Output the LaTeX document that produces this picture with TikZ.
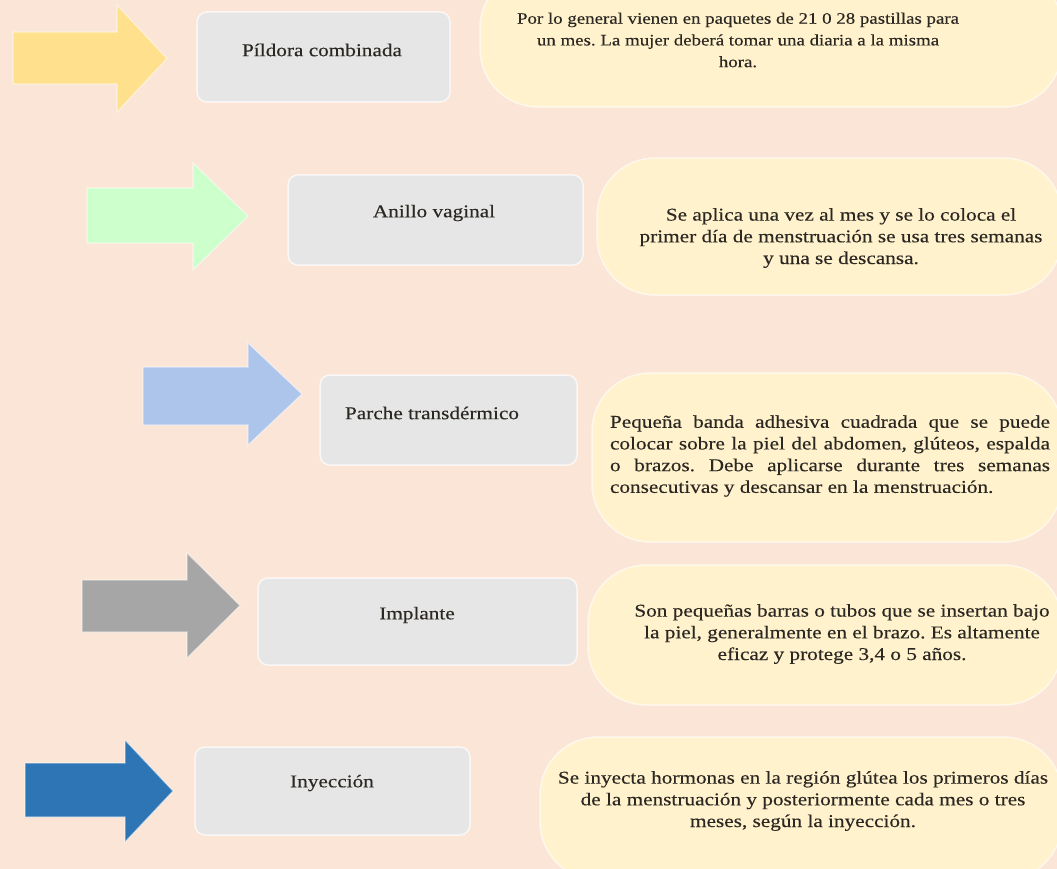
\documentclass[tikz,border=0pt]{standalone}
\usepackage{fontspec}
\setmainfont{Liberation Serif}[FakeStretch=1.18,FakeBold=0.25]
\definecolor{bg}{HTML}{FBE5D6}
\definecolor{notefill}{HTML}{FFF2CC}
\definecolor{boxfill}{HTML}{E6E6E6}
\definecolor{ink}{HTML}{2B2722}
\definecolor{arrY}{HTML}{FFE08C}
\definecolor{arrG}{HTML}{CCFFCC}
\definecolor{arrB}{HTML}{ADC5EA}
\definecolor{arrGr}{HTML}{A6A6A6}
\definecolor{arrD}{HTML}{2E75B6}
\begin{document}
\frenchspacing
\begin{tikzpicture}[x=1pt,y=-1pt,
  boxshape/.style={fill=boxfill, draw=white, draw opacity=0.7, line width=1.5pt, rounded corners=10pt, inner sep=0pt},
  noteshape/.style={fill=notefill, draw=white, draw opacity=0.6, line width=1.5pt, rounded corners=58pt, inner sep=0pt},
  lbl/.style={font=\fontsize{18}{21.7}\selectfont, text=ink, inner sep=0pt},
  notetext/.style={lbl, align=center},
  blockarrow/.style={draw=white, draw opacity=0.5, line width=1.2pt}
]
\useasboundingbox (0,0) rectangle (1057,869);
\fill[bg] (0,0) rectangle (1057,869);
\clip (0,0) rectangle (1057,869);

% ---------- Row 1 ----------
\path[fill=arrY, blockarrow] (13,32) -- (117,32) -- (117,5) -- (167,58.5) -- (117,112) -- (117,84) -- (13,84) -- cycle;
\node[boxshape, minimum width=253pt, minimum height=90pt] (b1) at (323.5,57) {};
\node[lbl] (t1) at (322,50) {Píldora combinada};
\node[noteshape, minimum width=582pt, minimum height=137pt] (n1) at (771,38.5) {};
\node[notetext, font=\fontsize{16}{21.7}\selectfont] (d1) at (738,40) {Por lo general vienen en paquetes de 21 0 28 pastillas para\\un mes. La mujer deberá tomar una diaria a la misma\\hora.};

% ---------- Row 2 ----------
\path[fill=arrG, blockarrow] (87,188) -- (193,188) -- (193,163) -- (248,216) -- (193,270) -- (193,243) -- (87,243) -- cycle;
\node[boxshape, minimum width=295pt, minimum height=90pt] (b2) at (435.5,220) {};
\node[lbl] (t2) at (434,213) {Anillo vaginal};
\node[noteshape, minimum width=465pt, minimum height=137pt] (n2) at (829.5,226.5) {};
\node[notetext] (d2) at (841,238) {Se aplica una vez al mes y se lo coloca el\\primer día de menstruación se usa tres semanas\\y una se descansa.};

% ---------- Row 3 ----------
\path[fill=arrB, blockarrow] (143,367) -- (248,367) -- (248,343) -- (302,394) -- (248,445) -- (248,425) -- (143,425) -- cycle;
\node[boxshape, minimum width=257pt, minimum height=90pt] (b3) at (448.5,420) {};
\node[lbl] (t3) at (432,413) {Parche transdérmico};
\node[noteshape, minimum width=470pt, minimum height=169pt] (n3) at (827,457.5) {};
\node[lbl, align=left] (d3) at (830,456) {\makebox[440pt][s]{Pequeña banda adhesiva cuadrada que se puede}\\
\makebox[440pt][s]{colocar sobre la piel del abdomen, glúteos, espalda}\\
\makebox[440pt][s]{o brazos. Debe aplicarse durante tres semanas}\\
\makebox[440pt][l]{consecutivas y descansar en la menstruación.}};

% ---------- Row 4 ----------
\path[fill=arrGr, blockarrow] (82,580) -- (187,580) -- (187,553) -- (240,605.5) -- (187,658) -- (187,632) -- (82,632) -- cycle;
\node[boxshape, minimum width=319pt, minimum height=87pt] (b4) at (417.5,621.5) {};
\node[lbl] (t4) at (417,615) {Implante};
\node[noteshape, minimum width=474pt, minimum height=140pt] (n4) at (825,635) {};
\node[notetext] (d4) at (842,634) {Son pequeñas barras o tubos que se insertan bajo\\la piel, generalmente en el brazo. Es altamente\\eficaz y protege 3,4 o 5 años.};

% ---------- Row 5 ----------
\path[fill=arrD, blockarrow] (25,763) -- (125,763) -- (125,740) -- (173,791) -- (125,842) -- (125,817) -- (25,817) -- cycle;
\node[boxshape, minimum width=275pt, minimum height=88pt] (b5) at (332.5,791) {};
\node[lbl] (t5) at (332,783) {Inyección};
\node[noteshape, minimum width=522pt, minimum height=143pt] (n5) at (801,808.5) {};
\node[notetext] (d5) at (803,801) {Se inyecta hormonas en la región glútea los primeros días\\de la menstruación y posteriormente cada mes o tres\\meses, según la inyección.};
\end{tikzpicture}
\end{document}
